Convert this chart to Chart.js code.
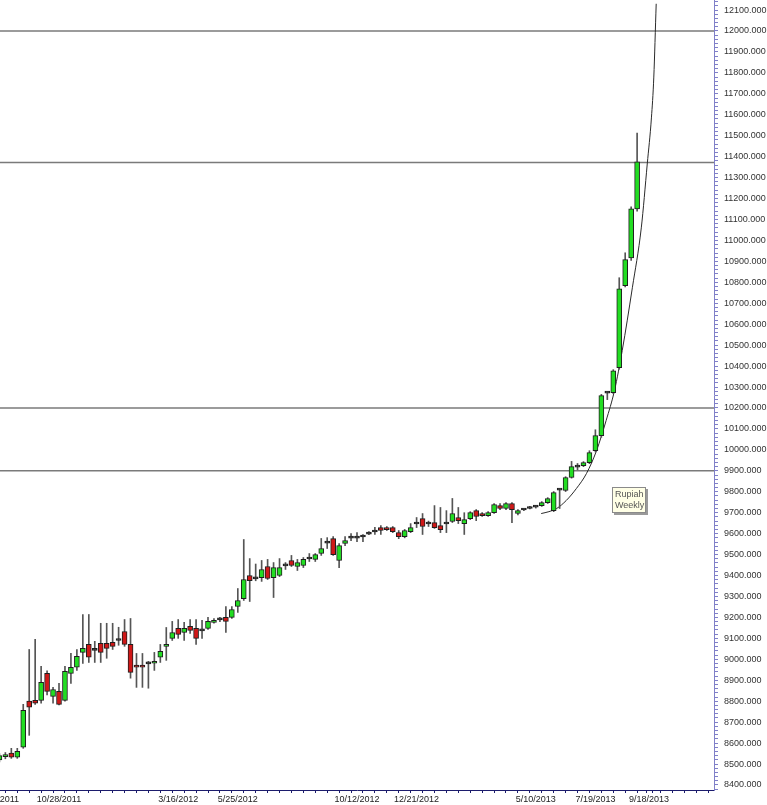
<!DOCTYPE html>
<html lang="en">
<head>
<meta charset="UTF-8">
<title>Rupiah Weekly</title>
<script src="https://cdn.jsdelivr.net/npm/chart.js"></script>
<style>
  html, body { margin: 0; padding: 0; background: #fff; }
  #wrap { width: 767px; height: 805px; }
</style>
</head>
<body>
<div id="wrap"><canvas id="rupiahChart" width="767" height="805"></canvas></div>
<script>
// weekly OHLC (one entry per week, oldest first)
const opens = [
  8520, 8535, 8552, 8533, 8580, 8800, 8804, 8804, 8933, 8823,
  8847, 8804, 8933, 8962, 9033, 9071, 9048, 9076, 9076, 9081,
  9095, 9133, 9071, 8972, 8972, 8983, 8981, 9010, 9062, 9100,
  9148, 9128, 9157, 9148, 9140, 9148, 9176, 9192, 9200, 9200,
  9252, 9290, 9400, 9388, 9390, 9443, 9390, 9400, 9450, 9472,
  9443, 9448, 9483, 9477, 9505, 9558, 9576, 9472, 9553, 9583,
  9583, 9588, 9602, 9612, 9629, 9629, 9629, 9605, 9586, 9610,
  9650, 9672, 9650, 9653, 9638, 9650, 9658, 9677, 9648, 9672,
  9710, 9696, 9686, 9700, 9734, 9720, 9744, 9696, 9717, 9720,
  9731, 9734, 9748, 9710, 9812, 9806, 9868, 9922, 9925, 9939,
  9996, 10068, 10275, 10273, 10392, 10784, 10917, 11151
];
const highs = [
  8550, 8555, 8575, 8575, 8785, 9047, 9095, 8966, 8945, 8866,
  8885, 8966, 9028, 9047, 9214, 9214, 9086, 9172, 9172, 9172,
  9153, 9190, 9195, 9028, 9028, 8990, 9033, 9071, 9152, 9181,
  9190, 9176, 9190, 9190, 9186, 9200, 9195, 9200, 9252, 9252,
  9338, 9572, 9481, 9455, 9472, 9477, 9462, 9481, 9462, 9496,
  9477, 9486, 9505, 9505, 9577, 9581, 9586, 9553, 9586, 9600,
  9605, 9596, 9610, 9630, 9638, 9634, 9634, 9615, 9620, 9648,
  9677, 9696, 9660, 9734, 9725, 9710, 9768, 9725, 9700, 9705,
  9715, 9700, 9705, 9744, 9744, 9748, 9748, 9715, 9720, 9730,
  9735, 9753, 9772, 9801, 9815, 9872, 9945, 9935, 9944, 9996,
  10096, 10265, 10278, 10383, 10822, 10941, 11160, 11513
];
const lows = [
  8510, 8525, 8527, 8527, 8575, 8637, 8785, 8790, 8830, 8790,
  8782, 8800, 8885, 8947, 8980, 8985, 8985, 8985, 9005, 9047,
  9067, 9062, 8910, 8866, 8866, 8862, 8947, 8985, 8995, 9090,
  9100, 9090, 9124, 9071, 9100, 9143, 9172, 9180, 9128, 9195,
  9224, 9281, 9276, 9375, 9372, 9381, 9295, 9395, 9429, 9443,
  9424, 9438, 9467, 9467, 9496, 9529, 9496, 9438, 9543, 9567,
  9562, 9562, 9595, 9596, 9596, 9615, 9605, 9576, 9580, 9605,
  9629, 9596, 9634, 9625, 9605, 9605, 9653, 9648, 9596, 9667,
  9662, 9682, 9682, 9696, 9715, 9715, 9653, 9690, 9710, 9718,
  9722, 9730, 9744, 9705, 9720, 9801, 9865, 9905, 9920, 9934,
  9990, 10060, 10240, 10268, 10385, 10778, 10905, 11140
];
const closes = [
  8540, 8545, 8533, 8561, 8756, 8772, 8790, 8890, 8847, 8856,
  8785, 8943, 8962, 9014, 9052, 9010, 9043, 9033, 9052, 9062,
  9090, 9071, 8938, 8962, 8962, 8978, 8990, 9038, 9071, 9128,
  9119, 9148, 9138, 9100, 9136, 9181, 9186, 9188, 9181, 9238,
  9281, 9381, 9376, 9384, 9429, 9386, 9438, 9438, 9446, 9448,
  9462, 9477, 9479, 9500, 9529, 9555, 9500, 9543, 9567, 9579,
  9579, 9584, 9598, 9608, 9615, 9619, 9610, 9586, 9615, 9629,
  9646, 9634, 9646, 9629, 9619, 9646, 9696, 9662, 9667, 9700,
  9682, 9686, 9700, 9739, 9720, 9744, 9715, 9710, 9713, 9725,
  9727, 9748, 9768, 9796, 9808, 9868, 9920, 9918, 9939, 9987,
  10068, 10259, 10271, 10378, 10769, 10908, 11151, 11375
];

// date labels shown under the axis (week number -> text)
const tickIdx  = [0, 10, 30, 40, 60, 70, 90, 100, 109];
const tickText = ['8/19/2011', '10/28/2011', '3/16/2012', '5/25/2012', '10/12/2012',
                  '12/21/2012', '5/10/2013', '7/19/2013', '9/18/2013'];

// horizontal levels and the hand drawn parabolic curve
const levels = [12000, 11372, 10200, 9900];
const curveX = [90.9, 92.2, 93.5, 95.1, 96.8, 98.5, 100.2, 101.8, 103.2, 104.5, 106.2, 107.7, 108.7, 109.4, 109.8, 110.2];
const curveY = [9696, 9705, 9720, 9758, 9815, 9887, 9997, 10140, 10283, 10474, 10774, 11060, 11365, 11585, 11780, 12130];

const X_MIN = 0.1, X_MAX = 119.9;
const Y_MIN = 8376, Y_MAX = 12148;

const weeks = opens.map((_, i) => i);
const wickData = weeks.map(i => ({ x: i, y: [lows[i], highs[i]] }));
const bodyData = weeks.map(i => ({ x: i, y: [Math.min(opens[i], closes[i]), Math.max(opens[i], closes[i])] }));
const bodyColors = weeks.map(i => {
    const d = closes[i] - opens[i];
    if (Math.abs(d) <= 5) return '#333333';
    return d > 0 ? '#22dd22' : '#d01818';
});

// minor ticks every 2 weeks plus the labelled ones
const xTicks = [];
for (let w = 0; w <= 118; w += 2) xTicks.push(w);
tickIdx.forEach(t => { if (!xTicks.includes(t)) xTicks.push(t); });
xTicks.sort((a, b) => a - b);

const levelSets = levels.map(v => ({
    type: 'line',
    data: [{ x: X_MIN, y: v }, { x: X_MAX, y: v }],
    borderColor: '#7a7a7a',
    borderWidth: 1.5,
    pointRadius: 0,
    order: 3
}));

const noteBox = {
    id: 'noteBox',
    afterDatasetsDraw(chart) {
        const ctx = chart.ctx;
        const x = 612, y = 487, w = 34, h = 26;
        ctx.save();
        ctx.fillStyle = '#9a9a9a';
        ctx.fillRect(x + 2, y + 2, w, h);
        ctx.fillStyle = '#ffffe6';
        ctx.fillRect(x, y, w, h);
        ctx.strokeStyle = '#8a8a8a';
        ctx.lineWidth = 1;
        ctx.strokeRect(x + 0.5, y + 0.5, w - 1, h - 1);
        ctx.fillStyle = '#555';
        ctx.font = '9px Arial, "Liberation Sans", sans-serif';
        ctx.textBaseline = 'top';
        ctx.fillText('Rupiah', x + 3, y + 3);
        ctx.fillText('Weekly', x + 3, y + 14);
        ctx.restore();
    }
};

Chart.defaults.font.family = 'Arial, "Liberation Sans", sans-serif';

new Chart(document.getElementById('rupiahChart'), {
    type: 'bar',
    data: {
        datasets: [
            {
                type: 'bar',
                data: bodyData,
                backgroundColor: bodyColors,
                borderColor: '#1e1e1e',
                borderWidth: 1,
                borderSkipped: false,
                barThickness: 5,
                minBarLength: 2,
                grouped: false,
                order: 0
            },
            {
                type: 'bar',
                data: wickData,
                backgroundColor: '#555555',
                barThickness: 1,
                grouped: false,
                order: 1
            },
            {
                type: 'line',
                data: curveX.map((x, i) => ({ x: x, y: curveY[i] })),
                borderColor: '#2a2a2a',
                borderWidth: 1,
                pointRadius: 0,
                cubicInterpolationMode: 'monotone',
                order: 2
            },
            ...levelSets
        ]
    },
    options: {
        responsive: false,
        animation: false,
        devicePixelRatio: 1,
        events: [],
        layout: { padding: 0 },
        plugins: { legend: { display: false }, tooltip: { enabled: false } },
        scales: {
            x: {
                type: 'linear',
                min: X_MIN,
                max: X_MAX,
                offset: false,
                grid: { drawOnChartArea: false, tickLength: 3, color: '#1c1c6c' },
                border: { color: '#1c1c6c', width: 1 },
                ticks: {
                    autoSkip: false,
                    maxRotation: 0,
                    padding: 1,
                    color: '#222',
                    font: { size: 9 },
                    callback: v => {
                        const k = tickIdx.indexOf(v);
                        return k >= 0 ? tickText[k] : '';
                    }
                },
                afterBuildTicks: s => { s.ticks = xTicks.map(v => ({ value: v })); },
                afterFit: s => { s.height = 15; s.paddingLeft = 0; s.paddingRight = 0; }
            },
            y: {
                type: 'linear',
                position: 'right',
                min: Y_MIN,
                max: Y_MAX,
                grid: { drawOnChartArea: false, tickLength: 4, color: '#8080c8' },
                border: { color: '#8080c8', width: 1 },
                ticks: {
                    stepSize: 20,
                    includeBounds: false,
                    autoSkip: false,
                    padding: 6,
                    color: '#333',
                    font: { size: 9 },
                    callback: v => (v % 100 === 0 ? v.toFixed(3) : '')
                },
                afterFit: s => { s.width = 53; s.paddingTop = 0; s.paddingBottom = 0; }
            }
        }
    },
    plugins: [noteBox]
});
</script>
</body>
</html>
